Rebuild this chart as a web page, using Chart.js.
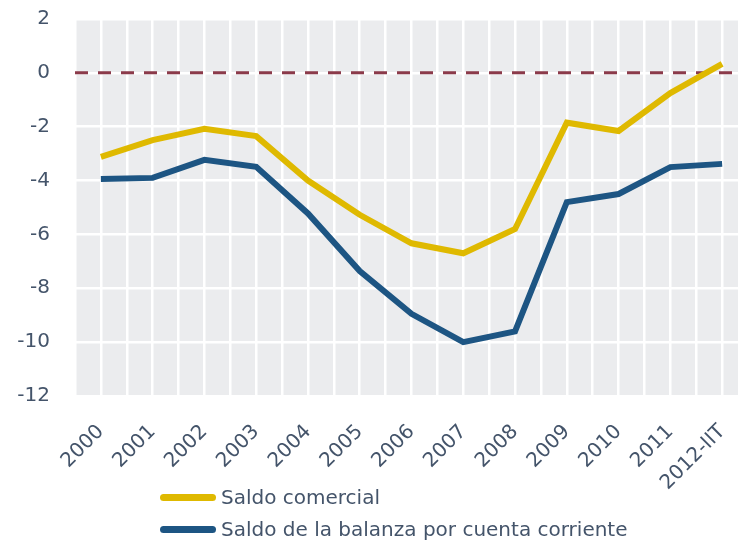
<!DOCTYPE html>
<html>
<head>
<meta charset="utf-8">
<script src="https://cdn.jsdelivr.net/npm/chart.js@4/dist/chart.umd.min.js"></script>
<style>
  html, body { margin: 0; padding: 0; background: #fff; overflow: hidden; }
  #wrap { position: relative; width: 748px; height: 540px; }
  .legend { position: absolute; left: 160px; font: 20px "DejaVu Sans", sans-serif; color: #44546a; }
  .legend div { display: flex; align-items: center; height: 32px; }
  .legend span.swatch { display: inline-block; width: 56px; height: 7px; border-radius: 4px; margin-right: 5px; }
</style>
</head>
<body>
<div id="wrap">
  <canvas id="chart" width="748" height="540"></canvas>
  <div class="legend" style="top:481px">
    <div><span class="swatch" style="background:#dfb900"></span>Saldo comercial</div>
    <div><span class="swatch" style="background:#1d5583"></span>Saldo de la balanza por cuenta corriente</div>
  </div>
</div>
<script>
const years = ["2000", "2001", "2002", "2003", "2004", "2005", "2006", "2007", "2008", "2009", "2010", "2011", "2012-IIT"];
const saldoComercial = [-3.12, -2.5, -2.08, -2.35, -4.0, -5.27, -6.33, -6.7, -5.8, -1.85, -2.16, -0.75, 0.33];
const saldoCorriente = [-3.94, -3.9, -3.23, -3.49, -5.22, -7.36, -8.95, -10.0, -9.6, -4.8, -4.5, -3.5, -3.38];
const yTicks = [2, 0, -2, -4, -6, -8, -10, -12];

const textColor = "#44546a";

const plotBackground = {
  id: "plotBackground",
  beforeDraw(chart) {
    const { ctx, chartArea } = chart;
    ctx.save();
    ctx.fillStyle = "#ebecee";
    ctx.fillRect(chartArea.left, chartArea.top, chartArea.right - chartArea.left, chartArea.bottom - chartArea.top);
    ctx.restore();
  }
};

const zeroLine = {
  id: "zeroLine",
  beforeDatasetsDraw(chart) {
    const { ctx, chartArea, scales } = chart;
    const y = scales.y.getPixelForValue(0);
    ctx.save();
    ctx.strokeStyle = "#8b3a4a";
    ctx.lineWidth = 3;
    ctx.setLineDash([13, 10]);
    ctx.beginPath();
    ctx.moveTo(chartArea.left, y);
    ctx.lineTo(chartArea.right, y);
    ctx.stroke();
    ctx.restore();
  }
};

new Chart(document.getElementById("chart"), {
  type: "line",
  data: {
    datasets: [
      {
        label: "Saldo comercial",
        data: saldoComercial.map((v, i) => ({ x: i, y: v })),
        borderColor: "#dfb900",
        borderWidth: 6,
        pointRadius: 0,
        tension: 0
      },
      {
        label: "Saldo de la balanza por cuenta corriente",
        data: saldoCorriente.map((v, i) => ({ x: i, y: v })),
        borderColor: "#1d5583",
        borderWidth: 6,
        pointRadius: 0,
        tension: 0
      }
    ]
  },
  options: {
    responsive: false,
    animation: false,
    layout: { padding: { top: 19, right: 0, bottom: 0, left: 0 } },
    plugins: { legend: { display: false }, tooltip: { enabled: false } },
    scales: {
      x: {
        type: "linear",
        min: -0.5,
        max: 12.5,
        afterBuildTicks(scale) {
          const ticks = [];
          for (let i = 0; i <= 26; i++) ticks.push({ value: -0.5 + i * 0.5 });
          scale.ticks = ticks;
        },
        afterFit(scale) {
          scale.height = 144;
          scale.paddingLeft = 0;
          scale.paddingRight = 0;
        },
        grid: { color: "#ffffff", lineWidth: 2.5, drawTicks: false },
        border: { display: false },
        ticks: {
          autoSkip: false,
          minRotation: 45,
          maxRotation: 45,
          padding: 24,
          color: textColor,
          font: { family: "DejaVu Sans", size: 20 },
          callback: (v) => (Number.isInteger(v) && v >= 0 ? years[v] : "")
        }
      },
      y: {
        min: -12,
        max: 2,
        afterBuildTicks(scale) { scale.ticks = yTicks.map((v) => ({ value: v })); },
        afterFit(scale) {
          scale.width = 75;
          scale.paddingTop = 0;
          scale.paddingBottom = 0;
        },
        grid: { color: "#ffffff", lineWidth: 2.5, drawTicks: false },
        border: { display: false },
        ticks: {
          padding: 25,
          color: textColor,
          font: { family: "DejaVu Sans", size: 20 }
        }
      }
    }
  },
  plugins: [plotBackground, zeroLine]
});
</script>
</body>
</html>
